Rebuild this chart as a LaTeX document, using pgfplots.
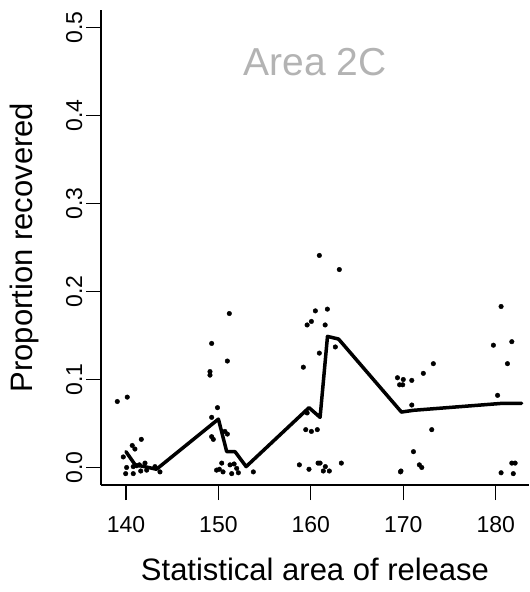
\documentclass[border=0pt]{standalone}
\usepackage{fontspec}
\setmainfont{Liberation Sans}
\usepackage{pgfplots}
\pgfplotsset{compat=1.18}
\definecolor{titlegray}{HTML}{B3B3B3}
\begin{document}
\begin{tikzpicture}
\useasboundingbox (0,0) rectangle (530pt,592pt);
\begin{axis}[
 at={(101pt,107pt)}, anchor=south west,
 scale only axis, width=428pt, height=475pt,
 xmin=137.3, xmax=183.6, ymin=-0.0199, ymax=0.52,
 axis x line*=bottom, axis y line*=left,
 axis line style={line width=1.2pt, -},
 xtick={140,150,160,170,180}, ytick={0,0.1,0.2,0.3,0.4,0.5},
 tick align=outside, major tick length=15pt,
 tick style={line width=1.2pt, black},
 tick label style={font=\fontsize{23}{23}\selectfont},
 /pgf/number format/assume math mode=true,
 yticklabel style={rotate=90, anchor=south, /pgf/number format/fixed, /pgf/number format/fixed zerofill, /pgf/number format/precision=1},
 xticklabel style={yshift=-13pt},
 xlabel={Statistical area of release}, ylabel={Proportion recovered},
 label style={font=\fontsize{31}{31}\selectfont},
 xlabel style={at={(axis description cs:0.5,-0.2)}, anchor=base},
 ylabel style={at={(axis description cs:-0.1589,0.5)}, anchor=base},
 clip=true,
]
\addplot[only marks, mark=*, mark size=2.3pt, black] coordinates {
(139.06,0.075) (140.14,0.080) (141.66,0.032) (140.68,0.025) (140.97,0.021) (139.71,0.012)
(140.07,0.000) (140.79,0.001) (141.16,0.002) (139.97,-0.007) (140.79,-0.007) (142.06,0.005)
(142.24,-0.003) (143.14,0.001) (143.68,-0.005) (141.45,0.003) (141.6,-0.004)
(149.09,0.109) (149.09,0.105) (149.9,0.068) (149.27,0.057) (149.27,0.141) (151.18,0.175)
(150.97,0.121) (150.7,0.041) (150.97,0.038) (149.27,0.035) (149.45,0.032) (149.8,-0.003)
(150.36,0.005) (150.5,-0.005) (151.26,0.003) (151.44,-0.007) (151.98,-0.001) (152.16,-0.006)
(150.1,-0.002) (151.7,0.004) (153.78,-0.005)
(158.76,0.003) (159.19,0.114) (159.6,0.162) (159.45,0.043) (159.8,-0.002) (160.92,0.241)
(163.08,0.225) (160.49,0.178) (161.79,0.180) (160.06,0.166) (161.55,0.162) (162.65,0.137)
(160.92,0.130) (159.6,0.062) (160.06,0.041) (160.7,0.043) (160.78,0.005) (161.0,0.005)
(161.35,-0.004) (161.57,0.001) (162.0,-0.004) (163.3,0.005)
(169.37,0.102) (170.0,0.100) (169.6,0.094) (169.94,0.094) (170.92,0.099) (170.92,0.071)
(172.17,0.107) (173.25,0.118) (173.08,0.043) (171.1,0.018) (171.74,0.003) (172.0,0.000)
(169.7,-0.005) (169.75,-0.004)
(180.58,0.183) (179.75,0.139) (181.74,0.143) (181.27,0.118) (180.2,0.082) (180.58,-0.006)
(181.9,-0.007) (181.74,0.005) (182.1,0.005)
};
\addplot[line width=3.5pt, black, line join=round, line cap=round] coordinates {
(140,0.018) (141,0.003) (142,0.001) (143.3,-0.002)
(150,0.055) (150.9,0.018) (151.8,0.018) (153,0.001)
(159.8,0.068) (161,0.057) (161.8,0.149) (163,0.146)
(169.8,0.063) (171.1,0.065) (180.8,0.073) (182.8,0.073)
};
\node[anchor=base, text=titlegray, font=\fontsize{39}{39}\selectfont] at (axis description cs:0.5,0.863) {Area 2C};
\end{axis}
\end{tikzpicture}
\end{document}
